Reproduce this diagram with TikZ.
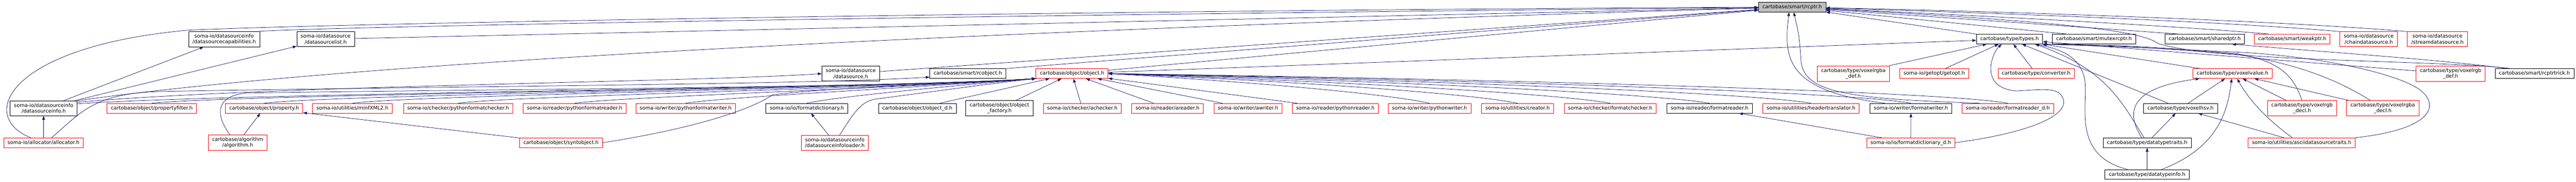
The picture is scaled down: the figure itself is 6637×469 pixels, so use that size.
\documentclass[tikz,border=0pt]{standalone}
\usepackage{fontspec}
\setmainfont{DejaVu Sans}
\usetikzlibrary{arrows.meta}
\definecolor{depblue}{HTML}{191970}
\definecolor{hdrgray}{HTML}{BFBFBF}

\begin{document}
\begin{tikzpicture}[x=1pt,y=1pt,
hdr/.style={draw=black,fill=white,line width=1pt,inner xsep=10pt,inner ysep=6pt,minimum height=25pt,align=center,font=\fontsize{13}{15}\selectfont},
hdrred/.style={hdr,draw=red},
hdrroot/.style={hdr,fill=hdrgray},
dep/.style={draw=depblue,line width=1pt,-{Triangle[length=10pt,width=7pt]}}]
\useasboundingbox (0,0) rectangle (6637,-469);

\node[hdrroot] (rcptr) at (4617.5,-18.4) {cartobase/smart/rcptr.h};

\node[hdr] (dscap) at (577.5,-101) {soma-io/datasourceinfo\\/datasourcecapabilities.h};
\node[hdr] (dslist) at (839,-101) {soma-io/datasource\\/datasourcelist.h};
\node[hdr] (types) at (5177.5,-101) {cartobase/type/types.h};
\node[hdr] (mutex) at (5395,-101) {cartobase/smart/mutexrcptr.h};
\node[hdr] (shared) at (5680.5,-101) {cartobase/smart/sharedptr.h};
\node[hdrred] (weak) at (5906,-101) {cartobase/smart/weakptr.h};
\node[hdrred] (chainds) at (6103,-101) {soma-io/datasource\\/chaindatasource.h};
\node[hdrred] (streamds) at (6280,-101) {soma-io/datasource\\/streamdatasource.h};

\node[hdr] (datasource) at (2192,-190) {soma-io/datasource\\/datasource.h};
\node[hdr] (rcobject) at (2493.5,-190) {cartobase/smart/rcobject.h};
\node[hdrred] (object) at (2762,-190) {cartobase/object/object.h};
\node[hdrred] (rgbadef) at (4775,-190) {cartobase/type/voxelrgba\\\_def.h};
\node[hdrred] (getopt) at (4983.5,-190) {soma-io/getopt/getopt.h};
\node[hdrred] (converter) at (5246,-190) {cartobase/type/converter.h};
\node[hdrred] (voxelvalue) at (5752,-190) {cartobase/type/voxelvalue.h};
\node[hdrred] (rgbdef) at (6314,-190) {cartobase/type/voxelrgb\\\_def.h};
\node[hdr] (trick) at (6530,-190) {cartobase/smart/rcptrtrick.h};

\node[hdr] (dsinfo) at (112.5,-279.5) {soma-io/datasourceinfo\\/datasourceinfo.h};
\node[hdrred] (pfilter) at (391,-279.5) {cartobase/object/propertyfilter.h};
\node[hdrred] (property) at (680.5,-279.5) {cartobase/object/property.h};
\node[hdrred] (minf) at (908,-279.5) {soma-io/utilities/minfXML2.h};
\node[hdrred] (pyfchecker) at (1180.5,-279.5) {soma-io/checker/pythonformatchecker.h};
\node[hdrred] (pyfreader) at (1480.5,-279.5) {soma-io/reader/pythonformatreader.h};
\node[hdrred] (pyfwriter) at (1766.5,-279.5) {soma-io/writer/pythonformatwriter.h};
\node[hdr] (fdict) at (2079,-279.5) {soma-io/io/formatdictionary.h};
\node[hdr] (objectd) at (2363.5,-279.5) {cartobase/object/object\_d.h};
\node[hdr] (objfactory) at (2575,-279.5) {cartobase/object/object\\\_factory.h};
\node[hdrred] (achecker) at (2788.5,-279.5) {soma-io/checker/achecker.h};
\node[hdrred] (areader) at (3008,-279.5) {soma-io/reader/areader.h};
\node[hdrred] (awriter) at (3215.5,-279.5) {soma-io/writer/awriter.h};
\node[hdrred] (pyreader) at (3440.5,-279.5) {soma-io/reader/pythonreader.h};
\node[hdrred] (pywriter) at (3683,-279.5) {soma-io/writer/pythonwriter.h};
\node[hdrred] (creator) at (3910,-279.5) {soma-io/utilities/creator.h};
\node[hdrred] (fchecker) at (4148.5,-279.5) {soma-io/checker/formatchecker.h};
\node[hdr] (freader) at (4404.5,-279.5) {soma-io/reader/formatreader.h};
\node[hdrred] (htrans) at (4666,-279.5) {soma-io/utilities/headertranslator.h};
\node[hdr] (fwriter) at (4923.5,-279.5) {soma-io/writer/formatwriter.h};
\node[hdrred] (freaderd) at (5173,-279.5) {soma-io/reader/formatreader\_d.h};
\node[hdr] (hsv) at (5618,-279.5) {cartobase/type/voxelhsv.h};
\node[hdrred] (rgbdecl) at (5931,-279.5) {cartobase/type/voxelrgb\\\_decl.h};
\node[hdrred] (rgbadecl) at (6139,-279.5) {cartobase/type/voxelrgba\\\_decl.h};

\node[hdrred] (alloc) at (112,-368.5) {soma-io/allocator/allocator.h};
\node[hdrred] (algo) at (612.5,-368.5) {cartobase/algorithm\\/algorithm.h};
\node[hdrred] (synt) at (1445.5,-368.5) {cartobase/object/syntobject.h};
\node[hdrred] (dsloader) at (2151,-368.5) {soma-io/datasourceinfo\\/datasourceinfoloader.h};
\node[hdrred] (fdictd) at (4923,-368.5) {soma-io/io/formatdictionary\_d.h};
\node[hdr] (dttraits) at (5532,-368.5) {cartobase/type/datatypetraits.h};
\node[hdrred] (ascii) at (5930,-368.5) {soma-io/utilities/asciidatasourcetraits.h};

\node[hdr] (dtinfo) at (5532,-450.5) {cartobase/type/datatypeinfo.h};

% into rcptr
\draw[dep] ([xshift=-33pt]alloc.north) .. controls (-60,-300) and (20,-120) .. (484,-78) .. controls (900,-58) and (3000,-25) .. (rcptr);
\draw[dep] (dscap.north east) .. controls (800,-72) and (2000,-45) .. (rcptr);
\draw[dep] (dslist) -- (rcptr);
\draw[dep] (dsinfo.north east) .. controls (900,-160) and (2500,-80) .. (rcptr);
\draw[dep] (datasource) -- (rcptr);
\draw[dep] (rcobject.north east) -- (rcptr);
\draw[dep] (object) -- (rcptr);
\draw[dep] (types.north west) -- (rcptr);
\draw[dep] ([xshift=-69pt]mutex.north) -- (rcptr);
\draw[dep] ([xshift=-67pt]shared.north) .. controls (5300,-65) and (5000,-45) .. (rcptr);
\draw[dep] ([xshift=38pt]weak.north west) .. controls (5650,-70) and (5200,-45) .. (rcptr);
\draw[dep] ([xshift=-75pt]chainds.north) .. controls (5750,-57) and (5200,-35) .. (rcptr);
\draw[dep] ([xshift=-78pt]streamds.north) .. controls (5900,-55) and (5200,-30) .. (rcptr);
\draw[dep] ([xshift=-62pt]trick.north) .. controls (6300,-155) and (5700,-160) .. (5560,-112) .. controls (5520,-85) and (5400,-60) .. (rcptr);
\draw[dep] ([xshift=-67pt]fwriter.north) .. controls (4600,-235) and (4595,-150) .. ([xshift=-8pt]rcptr.south);
\draw[dep] ([xshift=-72pt]freaderd.north) .. controls (4760,-255) and (4640,-240) .. (4640,-150) .. controls (4635,-90) .. ([xshift=4pt]rcptr.south);

% datasourceinfo and allocator
\draw[dep] (alloc) -- (dsinfo);
\draw[dep] (dsinfo) -- (dscap);
\draw[dep] (dsinfo) -- (dslist);
\draw[dep] ([yshift=-4pt]dsinfo.north east) .. controls (700,-220) and (1800,-212) .. (datasource.west);
\draw[dep] ([yshift=-8pt]dsinfo.north east) .. controls (600,-240) and (2270,-228) .. (object.south west);
\draw[dep] ([xshift=21pt]alloc.north) .. controls (210,-290) and (240,-240) .. (420,-236) .. controls (1200,-222) and (2100,-218) .. ([yshift=4pt]rcobject.south west);

% into object
\draw[dep] (pfilter.north) .. controls (620,-243) and (2270,-228) .. (object.south west);
\draw[dep] (property.north) .. controls (880,-243) and (2270,-228) .. (object.south west);
\draw[dep] (minf.north) .. controls (1080,-245) and (2270,-228) .. (object.south west);
\draw[dep] (pyfchecker.north) .. controls (1330,-247) and (2300,-228) .. (object.south west);
\draw[dep] (pyfreader.north) .. controls (1600,-250) and (2350,-226) .. (object.south west);
\draw[dep] (pyfwriter.north) .. controls (1870,-250) and (2400,-224) .. (object.south west);
\draw[dep] (fdict.north) .. controls (2150,-250) and (2450,-222) .. (object.south west);
\draw[dep] (algo) -- (property);
\draw[dep] ([xshift=-20pt]algo.north) .. controls (550,-290) and (560,-245) .. (640,-240) .. controls (1300,-230) and (2300,-226) .. (object.south west);
\draw[dep] (synt) -- (property);
\draw[dep] (synt.east) .. controls (1800,-330) and (1940,-280) .. (1990,-245) .. controls (2150,-225) and (2400,-220) .. (object.south west);
\draw[dep] (dsloader) -- (fdict);
\draw[dep] ([xshift=12pt]dsloader.north) .. controls (2195,-300) and (2215,-262) .. (2255,-256) .. controls (2450,-230) and (2600,-210) .. (object.south west);
\draw[dep] (objectd) -- (object);
\draw[dep] (objfactory) -- (object);
\draw[dep] (achecker) -- (object);
\draw[dep] (areader) -- (object);
\draw[dep] (awriter) -- (object);
\draw[dep] (pyreader) -- (object);
\draw[dep] (pywriter.north) .. controls (3560,-240) and (3200,-210) .. (object.east);
\draw[dep] (creator.north) .. controls (3780,-240) and (3300,-208) .. (object.east);
\draw[dep] (fchecker.north) .. controls (4000,-240) and (3400,-208) .. (object.east);
\draw[dep] (freader.north) .. controls (4250,-240) and (3500,-206) .. (object.east);
\draw[dep] (htrans.north) .. controls (4500,-238) and (3600,-205) .. (object.east);
\draw[dep] (fwriter.north) .. controls (4760,-236) and (3700,-204) .. (object.east);
\draw[dep] (freaderd.north) .. controls (5000,-235) and (3800,-203) .. (object.east);

% into types
\draw[dep] (object) -- (types);
\draw[dep] (rgbadef) -- (types);
\draw[dep] (getopt) -- (types);
\draw[dep] (converter) -- (types);
\draw[dep] (fdictd.east) .. controls (5250,-340) and (5345,-290) .. (5310,-245) .. controls (5295,-225) and (5250,-232) .. (5195,-235) .. controls (5140,-230) and (5125,-200) .. (5130,-165) .. controls (5135,-140) and (5145,-125) .. ([xshift=-20pt]types.south);
\draw[dep] ([xshift=-50pt]dtinfo.north) .. controls (5330,-400) and (5385,-260) .. (5370,-200) .. controls (5355,-140) and (5300,-125) .. ([xshift=65pt]types.south);
\draw[dep] ([xshift=-8pt]dttraits.north) .. controls (5470,-270) and (5430,-180) .. ([xshift=66pt]types.south);
\draw[dep] (hsv) -- (types);
\draw[dep] (voxelvalue) -- (types);
\draw[dep] (rgbdecl.north) .. controls (5910,-200) and (5880,-158) .. (5760,-138) .. controls (5500,-118) .. (types.south east);
\draw[dep] ([xshift=-32pt]rgbadecl.north) .. controls (6020,-205) and (5920,-165) .. (5760,-140) .. controls (5500,-120) .. (types.south east);
\draw[dep] (ascii.north east) .. controls (6260,-335) and (6290,-275) .. (6235,-232) .. controls (6170,-185) and (5950,-142) .. (5750,-134) .. controls (5500,-122) .. (types.south east);
\draw[dep] (rgbdef) -- (types);

% voxel types
\draw[dep] ([xshift=-14pt]dttraits.north) .. controls (5470,-280) and (5500,-225) .. ([xshift=-85pt]voxelvalue.south);
\draw[dep] (hsv) -- (voxelvalue);
\draw[dep] ([xshift=37pt]dtinfo.north) .. controls (5720,-380) and (5740,-280) .. ([xshift=-2pt]voxelvalue.south);
\draw[dep] ([xshift=-24pt]ascii.north) .. controls (5830,-300) and (5790,-250) .. ([xshift=12pt]voxelvalue.south);
\draw[dep] (rgbdecl) -- (voxelvalue);
\draw[dep] (rgbadecl) -- (voxelvalue);
\draw[dep] (ascii) -- (hsv);
\draw[dep] (dttraits) -- (hsv);
\draw[dep] (dtinfo) -- (dttraits);
\draw[dep] ([xshift=-70pt]trick.north) .. controls (6300,-155) and (6000,-135) .. ([xshift=70pt]shared.south);

% format dictionary
\draw[dep] (fdictd) -- (freader);
\draw[dep] (fdictd) -- (fwriter);
\end{tikzpicture}
\end{document}
